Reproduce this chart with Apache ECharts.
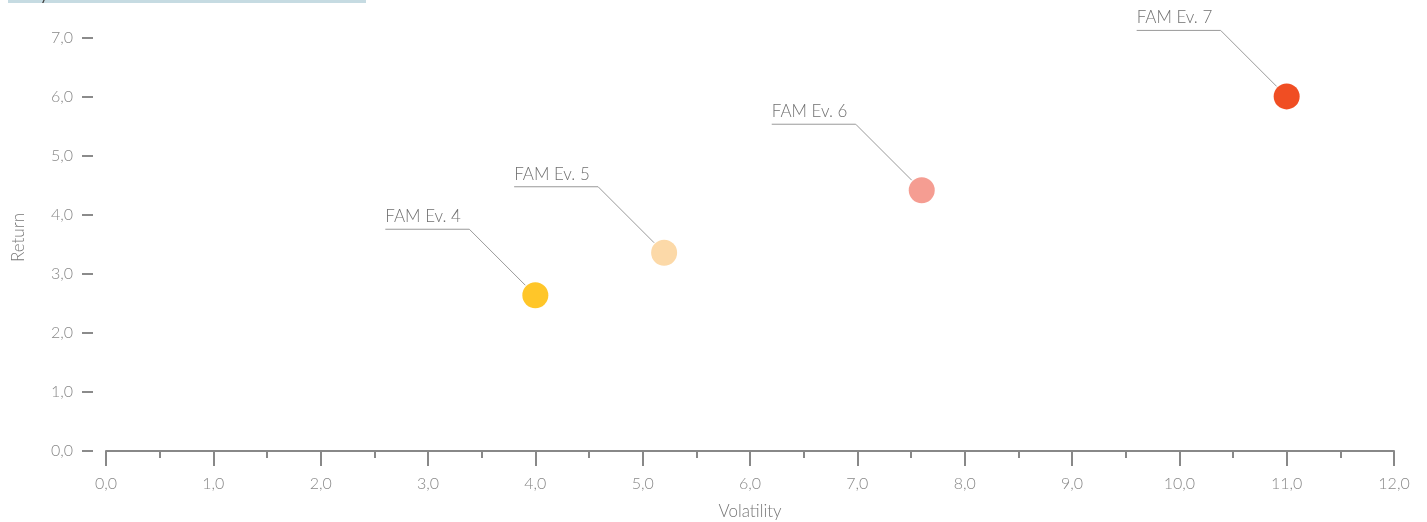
<!DOCTYPE html>
<html>
<head>
<meta charset="utf-8">
<script src="https://cdn.jsdelivr.net/npm/echarts@6/dist/echarts.min.js"></script>
<style>
html,body{margin:0;padding:0;background:#fff;}
#chart{width:1427px;height:522px;}
</style>
</head>
<body>
<div id="chart"></div>
<script>
const names = ['FAM Ev. 4', 'FAM Ev. 5', 'FAM Ev. 6', 'FAM Ev. 7'];
const volatility = [4.0, 5.2, 7.6, 11.0];
const returns = [2.64, 3.36, 4.42, 6.01];
const colors = ['#FFC629', '#FCD9A8', '#F59D92', '#F04E23'];

const FONT = 'Lato, "Noto Sans", sans-serif';
const chart = echarts.init(document.getElementById('chart'));

const points = names.map((n, i) => ({
  name: n,
  value: [volatility[i], returns[i]],
  itemStyle: { color: colors[i], opacity: 1 }
}));

chart.setOption({
  animation: false,
  textStyle: { fontFamily: FONT },
  graphic: [
    { type: 'rect', left: 8, top: 0, shape: { width: 358, height: 3 }, style: { fill: '#c6dbe2' }, z: 10 },
    { type: 'text', x: 40, y: 3, style: { text: 'y', fontSize: 16, fontFamily: FONT, fill: '#444', verticalAlign: 'bottom' }, z: 11 }
  ],
  grid: { left: 106, right: 33, top: 38, bottom: 71, containLabel: false, outerBoundsMode: 'none' },
  xAxis: {
    type: 'value', min: 0, max: 12, interval: 1,
    name: 'Volatility', nameLocation: 'middle', nameGap: 52,
    nameTextStyle: { color: '#777', fontSize: 17, fontWeight: 300 },
    axisLine: { show: true, onZero: false, lineStyle: { color: '#888', width: 2 } },
    axisTick: { show: true, length: 15, lineStyle: { color: '#888', width: 2 } },
    minorTick: { show: true, splitNumber: 2, length: 7, lineStyle: { color: '#888', width: 2 } },
    splitLine: { show: false },
    axisLabel: {
      color: '#888', fontSize: 16, fontWeight: 300, margin: 25,
      formatter: v => v.toFixed(1).replace('.', ',')
    }
  },
  yAxis: {
    type: 'value', min: 0, max: 7, interval: 1, offset: 13,
    name: 'Return', nameLocation: 'middle', nameGap: 66,
    nameTextStyle: { color: '#777', fontSize: 17, fontWeight: 300, padding: [0, 0, 0, 14] },
    axisLine: { show: false, onZero: false },
    axisTick: { show: true, length: 11, lineStyle: { color: '#666', width: 1.5 } },
    splitLine: { show: false },
    axisLabel: {
      color: '#888', fontSize: 16, fontWeight: 300, margin: 20,
      formatter: v => v.toFixed(1).replace('.', ',')
    }
  },
  series: [
    {
      type: 'custom',
      data: names.map((n, i) => [volatility[i], returns[i]]),
      renderItem: function (params, api) {
        const p = api.coord([api.value(0), api.value(1)]);
        const i = params.dataIndex;
        return {
          type: 'group',
          children: [
            {
              type: 'polyline',
              shape: { points: [[p[0] - 10, p[1] - 10], [p[0] - 66, p[1] - 66], [p[0] - 150, p[1] - 66]] },
              style: { stroke: '#999', lineWidth: 1, fill: null }
            },
            {
              type: 'text',
              x: p[0] - 150, y: p[1] - 70,
              style: { text: names[i], fontSize: 17, fontWeight: 300, fontFamily: FONT, fill: '#707070', align: 'left', verticalAlign: 'bottom' }
            }
          ]
        };
      },
      z: 1
    },
    {
      type: 'scatter',
      symbolSize: 26,
      data: points,
      z: 2
    }
  ]
});
</script>
</body>
</html>
